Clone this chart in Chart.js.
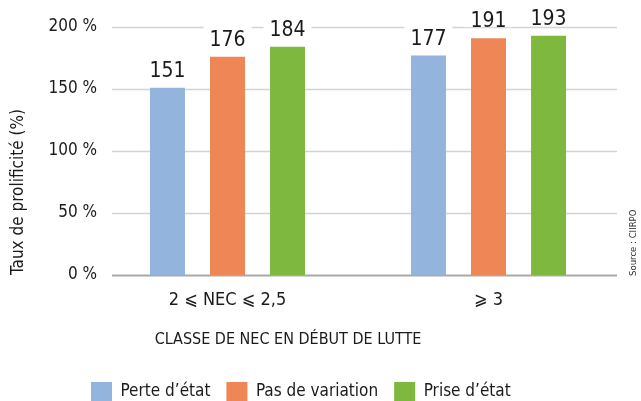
<!DOCTYPE html>
<html>
<head>
<meta charset="utf-8">
<script src="https://cdn.jsdelivr.net/npm/chart.js@4.4.1/dist/chart.umd.min.js"></script>
<style>
    body { margin: 0; background: #fff; }
    #wrap { width: 641px; height: 401px; }
</style>
</head>
<body>
<div id="wrap"><canvas id="barData" width="641" height="401"></canvas></div>
<script>
var categories = ['2 \u2A7D NEC \u2A7D 2,5', '\u2A7E 3'];
var seriesNames = ['Perte d\u2019\u00e9tat', 'Pas de variation', 'Prise d\u2019\u00e9tat'];
var perteEtat = [151, 177];
var pasVariation = [176, 191];
var priseEtat = [184, 193];
var yTicks = [0, 50, 100, 150, 200];
var seriesColors = ['#93b4dc', '#ef8656', '#7eb83e'];

var FONT = "'Liberation Sans Narrow', 'DejaVu Sans Condensed', 'Noto Sans', sans-serif";
var TEXT = '#1b1b1b';

// horizontal grid, drawn from the y scale but starting a bit right of the labels
var gridLines = {
    id: 'gridLines',
    beforeDatasetsDraw: function (chart) {
        var ctx = chart.ctx, y = chart.scales.y, area = chart.chartArea;
        ctx.save();
        yTicks.forEach(function (v) {
            var py = Math.round(y.getPixelForValue(v)) + 0.5;
            ctx.beginPath();
            ctx.strokeStyle = v === 0 ? '#a9a9a9' : '#d3d3d3';
            ctx.lineWidth = v === 0 ? 2 : 1.5;
            ctx.moveTo(112, py);
            ctx.lineTo(area.right - 2, py);
            ctx.stroke();
        });
        ctx.restore();
    }
};

// value above each bar, on a white patch that cuts the grid line
var valueLabels = {
    id: 'valueLabels',
    afterDatasetsDraw: function (chart) {
        var ctx = chart.ctx;
        ctx.save();
        ctx.font = '21px ' + FONT;
        ctx.textAlign = 'center';
        ctx.textBaseline = 'alphabetic';
        chart.data.datasets.forEach(function (ds, i) {
            chart.getDatasetMeta(i).data.forEach(function (bar, j) {
                var txt = String(ds.data[j]);
                var w = ctx.measureText(txt).width;
                var base = bar.y - 11;
                ctx.fillStyle = '#fff';
                ctx.fillRect(bar.x - w / 2 - 6, base - 21, w + 12, 21);
                ctx.fillStyle = TEXT;
                ctx.fillText(txt, bar.x, base);
            });
        });
        ctx.restore();
    }
};

// x title and source line; the title is centred on the whole figure, not on the plot
var extraText = {
    id: 'extraText',
    afterDraw: function (chart) {
        var ctx = chart.ctx;
        ctx.save();
        ctx.fillStyle = TEXT;
        ctx.font = '16px ' + FONT;
        ctx.textAlign = 'center';
        ctx.textBaseline = 'middle';
        ctx.fillText('CLASSE DE NEC EN D\u00c9BUT DE LUTTE', 288, 340);

        ctx.translate(634, 276);
        ctx.rotate(-Math.PI / 2);
        ctx.font = '9.5px ' + FONT;
        ctx.fillStyle = '#333';
        ctx.textAlign = 'left';
        ctx.fillText('Source : CIIRPO', 0, 0);
        ctx.restore();
    }
};

// legend: thin box in the layout, then moved to where the picture has it
var legendPlace = {
    id: 'legendPlace',
    beforeLayout: function (chart) {
        var lg = chart.legend;
        if (lg && !lg._thin) {
            var fit = lg.fit;
            lg.fit = function () { fit.call(this); this.height = 26; };
            lg._thin = true;
        }
    },
    afterLayout: function (chart) {
        chart.legend.left = 91 - 16;
        chart.legend.top = 382 - 16;
    }
};

function prepareChart() {
    Chart.defaults.font.family = FONT;
    Chart.defaults.color = TEXT;

    var ctx = document.getElementById('barData').getContext('2d');
    new Chart(ctx, {
        type: 'bar',
        data: {
            labels: categories,
            datasets: [
                { label: seriesNames[0], data: perteEtat, backgroundColor: seriesColors[0] },
                { label: seriesNames[1], data: pasVariation, backgroundColor: seriesColors[1] },
                { label: seriesNames[2], data: priseEtat, backgroundColor: seriesColors[2] }
            ]
        },
        options: {
            responsive: false,
            animation: false,
            devicePixelRatio: 1,
            datasets: { bar: { categoryPercentage: 0.69, barPercentage: 0.583 } },
            layout: { padding: { top: 27, right: 22, left: 0, bottom: 0 } },
            plugins: {
                tooltip: { enabled: false },
                legend: {
                    position: 'bottom',
                    align: 'start',
                    labels: {
                        boxWidth: 21,
                        boxHeight: 19,
                        padding: 16,
                        font: { size: 17 },
                        color: TEXT
                    }
                }
            },
            scales: {
                x: {
                    afterFit: function (scale) { scale.height = 100; },
                    grid: { display: false, drawTicks: false },
                    border: { display: false },
                    ticks: { font: { size: 18 }, padding: 15 }
                },
                y: {
                    min: 0,
                    max: 200,
                    afterBuildTicks: function (scale) {
                        scale.ticks = yTicks.map(function (v) { return { value: v }; });
                    },
                    afterFit: function (scale) { scale.width = 97; },
                    grid: { display: false, drawTicks: false },
                    border: { display: false },
                    ticks: {
                        font: { size: 17 },
                        padding: 0,
                        callback: function (v) { return v + ' %'; }
                    },
                    title: {
                        display: true,
                        text: 'Taux de prolificit\u00e9 (%)',
                        align: 'start',
                        font: { size: 17 },
                        padding: { top: 8, bottom: 0 }
                    }
                }
            }
        },
        plugins: [gridLines, valueLabels, extraText, legendPlace]
    });
}

prepareChart();
</script>
</body>
</html>
